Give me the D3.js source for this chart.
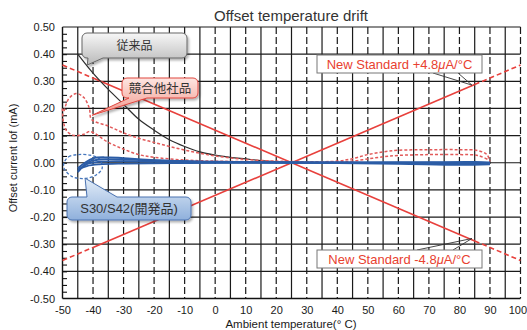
<!DOCTYPE html>
<html>
<head>
<meta charset="utf-8">
<script src="https://cdnjs.cloudflare.com/ajax/libs/d3/7.8.5/d3.min.js"></script>
<style>
body { margin: 0; background: #fff; }
svg { display: block; font-family: "Liberation Sans", Arial, sans-serif; }
</style>
</head>
<body>
<svg id="chart" width="527" height="330"></svg>
<script>
/**
 * Flag whether or not to show debugging data in the console.
 * @type Boolean
 */
var DEBUG = false;

// tick values of both axes
var X_TICKS = [-50, -40, -30, -20, -10, 0, 10, 20, 30, 40, 50, 60, 70, 80, 90, 100];
var Y_TICKS = [0.5, 0.4, 0.3, 0.2, 0.1, 0, -0.1, -0.2, -0.3, -0.4, -0.5];

// New Standard limit lines, [temperature, mA]
var STANDARD_PLUS  = [[-50, -0.36], [-40, -0.312], [85, 0.288], [100, 0.36]];
var STANDARD_MINUS = [[-50, 0.36], [-40, 0.312], [85, -0.288], [100, -0.36]];

// 従来品 (conventional part)
var CONVENTIONAL = [[-45, 0.40], [-40, 0.33], [-35, 0.27], [-30, 0.215], [-25, 0.16],
    [-20, 0.12], [-15, 0.085], [-10, 0.06], [-5, 0.04], [0, 0.028], [5, 0.02],
    [10, 0.014], [15, 0.008], [20, 0.004], [25, 0.001], [40, 0], [90, 0]];

// 競合他社品 (competitor parts)
var COMPETITOR_A = [[-49.5, 0.19], [-48, 0.235], [-45.5, 0.255], [-43, 0.24], [-41.2, 0.2],
    [-40.5, 0.16], [-35, 0.135], [-30, 0.11], [-25, 0.09], [-20, 0.075], [-15, 0.06],
    [-10, 0.047], [-5, 0.035], [0, 0.025], [5, 0.018], [10, 0.012], [20, 0.006],
    [30, 0.004], [40, 0.006], [45, 0.015], [50, 0.03], [55, 0.04], [60, 0.046],
    [70, 0.048], [80, 0.048], [86, 0.045], [89, 0.03], [90, 0.005]];
var COMPETITOR_B = [[-50, 0.2], [-49.7, 0.15], [-48.5, 0.115], [-46, 0.1], [-43, 0.105],
    [-41, 0.115], [-35, 0.075], [-30, 0.05], [-25, 0.03], [-20, 0.02], [-10, 0.01],
    [0, 0.006], [20, 0.003], [40, 0.003], [45, 0.006], [50, 0.014], [55, 0.022],
    [60, 0.027], [70, 0.03], [80, 0.03], [86, 0.027], [90, 0.008]];

// S30/S42 (開発品) parts
var DEV_A = [[-45, -0.035], [-43, -0.01], [-41, 0.005], [-38, 0.012], [-35, 0.013], [-30, 0.012],
    [-20, 0.009], [-10, 0.006], [0, 0.004], [20, 0.002], [40, 0.001], [60, 0], [80, -0.002], [90, -0.005]];
var DEV_B = [[-45, -0.03], [-42, -0.005], [-38, 0.004], [-30, 0.006], [-20, 0.004], [0, 0.002],
    [30, 0], [60, -0.004], [80, -0.008], [90, -0.006]];
var DEV_C = [[-45, -0.025], [-42, -0.012], [-38, -0.006], [-30, -0.003], [-10, -0.001], [20, 0],
    [50, 0], [70, 0.002], [85, 0.003], [90, 0]];
var DEV_D = [[-45, -0.02], [-40, 0.016], [-35, 0.02], [-30, 0.017], [-20, 0.01], [-10, 0.006],
    [0, 0.003], [30, 0.001], [60, 0.001], [90, 0]];
var DEV_LOOP = [[-49.5, 0], [-48, 0.022], [-45, 0.03], [-41, 0.028], [-38, 0.015], [-37, -0.02],
    [-39, -0.045], [-43, -0.058], [-47, -0.05], [-49.5, -0.02]];

var SVG = d3.select('#chart');
var X = d3.scaleLinear().domain([-50, 100]).range([62.5, 520.5]);
var Y = d3.scaleLinear().domain([-0.5, 0.5]).range([298.5, 27]);

var line = d3.line().x(function(d) { return X(d[0]); }).y(function(d) { return Y(d[1]); });

/**
 * Gradients and the shadow used by the callouts.
 */
createDefs = function() {
    var defs = SVG.append('defs');
    function grad(id, top, bottom) {
        var g = defs.append('linearGradient').attr('id', id)
            .attr('x1', 0).attr('y1', 0).attr('x2', 0).attr('y2', 1);
        g.append('stop').attr('offset', '0%').attr('stop-color', top);
        g.append('stop').attr('offset', '100%').attr('stop-color', bottom);
    }
    grad('grayGrad', '#f7f7f7', '#b9b9b9');
    grad('redGrad', '#fde6e2', '#f2978c');
    grad('blueGrad', '#e3edf8', '#8fb0dc');
    defs.append('filter').attr('id', 'shadow')
        .attr('x', '-10%').attr('y', '-20%').attr('width', '130%').attr('height', '160%')
        .append('feDropShadow')
        .attr('dx', 1.5).attr('dy', 2).attr('stdDeviation', 1.2)
        .attr('flood-color', '#000').attr('flood-opacity', 0.3);
};

/**
 * Grid, minor ticks and axis labels.
 */
drawAxes = function() {
    if (DEBUG) console.log('drawAxes');
    var grid = SVG.append('g').attr('stroke', '#1a1a1a').attr('stroke-width', 1.2);

    grid.selectAll('.v').data(d3.range(-45, 101, 5)).enter().append('line')
        .attr('x1', function(d) { return X(d); }).attr('x2', function(d) { return X(d); })
        .attr('y1', Y(0.5)).attr('y2', Y(-0.5))
        .attr('stroke-dasharray', function(d) { return d % 10 === 0 ? '7,3' : null; });

    grid.selectAll('.h').data(Y_TICKS.slice(0, -1)).enter().append('line')
        .attr('x1', X(-50)).attr('x2', X(100))
        .attr('y1', function(d) { return Y(d); }).attr('y2', function(d) { return Y(d); });

    // axis lines
    SVG.append('line').attr('x1', X(-50)).attr('x2', X(-50)).attr('y1', Y(0.5)).attr('y2', Y(-0.5))
        .attr('stroke', '#111').attr('stroke-width', 1.4);
    SVG.append('line').attr('x1', X(-50)).attr('x2', X(100)).attr('y1', Y(-0.5)).attr('y2', Y(-0.5))
        .attr('stroke', '#111').attr('stroke-width', 1.4);

    // minor ticks inside the left axis
    var minor = SVG.append('g').attr('transform', 'translate(' + X(-50) + ',0)')
        .call(d3.axisRight(Y).tickValues(d3.range(-0.475, 0.5, 0.025)).tickSize(4.5).tickFormat(''));
    minor.select('.domain').remove();
    minor.selectAll('line').attr('stroke', '#111').attr('stroke-width', 1.1);

    var ya = SVG.append('g').attr('transform', 'translate(' + X(-50) + ',0)')
        .call(d3.axisLeft(Y).tickValues(Y_TICKS).tickSize(0).tickPadding(7.5)
            .tickFormat(function(d) { return d.toFixed(2); }));
    ya.select('.domain').remove();
    ya.selectAll('text').attr('font-size', 11).attr('fill', '#1a1a1a')
        .attr('font-family', '"Liberation Sans", Arial, sans-serif');

    var xa = SVG.append('g').attr('transform', 'translate(0,' + Y(-0.5) + ')')
        .call(d3.axisBottom(X).tickValues(X_TICKS).tickSize(0).tickPadding(8)
            .tickFormat(function(d) { return String(d); }));
    xa.select('.domain').remove();
    xa.selectAll('text').attr('font-size', 11).attr('fill', '#1a1a1a')
        .attr('font-family', '"Liberation Sans", Arial, sans-serif');
    // keep the last label inside the window
    xa.selectAll('text').filter(function(d) { return d === 100; })
        .attr('text-anchor', 'end').attr('x', 6);

    SVG.append('text').attr('x', 291).attr('y', 21).attr('text-anchor', 'middle')
        .attr('font-size', 15).attr('fill', '#333').text('Offset temperature drift');
    SVG.append('text').attr('x', 291).attr('y', 328).attr('text-anchor', 'middle')
        .attr('font-size', 11.5).attr('fill', '#1a1a1a').text('Ambient temperature(° C)');
    SVG.append('text').attr('transform', 'translate(17,158) rotate(-90)').attr('text-anchor', 'middle')
        .attr('font-size', 11).attr('fill', '#1a1a1a').text('Offset current Iof (mA)');
};

/**
 * All measured curves and the standard limit lines.
 */
drawSeries = function() {
    if (DEBUG) console.log('drawSeries');
    var g = SVG.append('g').attr('fill', 'none');

    [STANDARD_PLUS, STANDARD_MINUS].forEach(function(s) {
        g.append('path').attr('d', line(s.slice(0, 2))).attr('stroke', '#e8403c')
            .attr('stroke-width', 1.6).attr('stroke-dasharray', '5,3');
        g.append('path').attr('d', line(s.slice(2, 4))).attr('stroke', '#e8403c')
            .attr('stroke-width', 1.6).attr('stroke-dasharray', '5,3');
        g.append('path').attr('d', line(s.slice(1, 3))).attr('stroke', '#e8403c')
            .attr('stroke-width', 1.6);
    });

    var smooth = d3.line().curve(d3.curveCatmullRom)
        .x(function(d) { return X(d[0]); }).y(function(d) { return Y(d[1]); });

    g.append('path').attr('d', smooth(CONVENTIONAL)).attr('stroke', '#2e2e2e').attr('stroke-width', 1.2);

    [COMPETITOR_A, COMPETITOR_B].forEach(function(s) {
        g.append('path').attr('d', smooth(s)).attr('stroke', '#e25a5a')
            .attr('stroke-width', 1.5).attr('stroke-dasharray', '3,2');
    });

    var loop = d3.line().curve(d3.curveCatmullRomClosed)
        .x(function(d) { return X(d[0]); }).y(function(d) { return Y(d[1]); });
    g.append('path').attr('d', loop(DEV_LOOP)).attr('stroke', '#4677bd')
        .attr('stroke-width', 1.3).attr('stroke-dasharray', '3,2');

    [DEV_A, DEV_B, DEV_C, DEV_D].forEach(function(s) {
        g.append('path').attr('d', smooth(s)).attr('stroke', '#2b5ca6').attr('stroke-width', 1.8);
    });
};

/**
 * Rounded box with a pointer on its top or bottom edge.
 */
calloutPath = function(c) {
    var x = c.x, y = c.y, w = c.w, h = c.h, r = 5;
    var tx = X(c.tip[0]), ty = Y(c.tip[1]);
    var p = 'M' + (x + r) + ',' + y;
    if (c.side === 'top') p += 'H' + c.b1 + 'L' + tx + ',' + ty + 'L' + c.b2 + ',' + y;
    p += 'H' + (x + w - r) + 'A' + r + ',' + r + ' 0 0 1 ' + (x + w) + ',' + (y + r);
    p += 'V' + (y + h - r) + 'A' + r + ',' + r + ' 0 0 1 ' + (x + w - r) + ',' + (y + h);
    if (c.side === 'bottom') p += 'H' + c.b2 + 'L' + tx + ',' + ty + 'L' + c.b1 + ',' + (y + h);
    p += 'H' + (x + r) + 'A' + r + ',' + r + ' 0 0 1 ' + x + ',' + (y + h - r);
    p += 'V' + (y + r) + 'A' + r + ',' + r + ' 0 0 1 ' + (x + r) + ',' + y + 'Z';
    return p;
};

/**
 * Labels for the three part groups and the two standard lines.
 */
drawCallouts = function() {
    if (DEBUG) console.log('drawCallouts');
    var callouts = [
        { text: '従来品', x: 82, y: 33, w: 105, h: 25, side: 'bottom', b1: 88, b2: 103,
          tip: [-41.9, 0.36], fill: 'url(#grayGrad)', stroke: '#666', size: 12 },
        { text: '競合他社品', x: 122, y: 78, w: 76, h: 20, side: 'bottom', b1: 129, b2: 147,
          tip: [-40.3, 0.175], fill: 'url(#redGrad)', stroke: '#e0463f', size: 12.5 },
        { text: 'S30/S42(開発品)', x: 67, y: 197, w: 124, h: 23, side: 'top', b1: 87, b2: 117,
          tip: [-42.6, -0.057], fill: 'url(#blueGrad)', stroke: '#4a72b0', size: 13 }
    ];
    callouts.forEach(function(c) {
        SVG.append('path').attr('d', calloutPath(c)).attr('fill', c.fill)
            .attr('stroke', c.stroke).attr('stroke-width', 1).attr('filter', 'url(#shadow)');
        SVG.append('text').attr('x', c.x + c.w / 2).attr('y', c.y + c.h / 2 + c.size * 0.36)
            .attr('text-anchor', 'middle').attr('font-size', c.size).attr('fill', '#333')
            .attr('font-family', '"Liberation Sans", "Noto Sans CJK JP", sans-serif')
            .text(c.text);
    });

    var standards = [
        { sign: '+', x: 317, y: 55, w: 165, h: 18, base: 73, b1: 433, b2: 458, tip: [84.1, 0.286] },
        { sign: '-', x: 317, y: 250, w: 165, h: 18, base: 250, b1: 417, b2: 453, tip: [84.1, -0.279] }
    ];
    standards.forEach(function(s) {
        var tx = X(s.tip[0]), ty = Y(s.tip[1]);
        SVG.append('path')
            .attr('d', 'M' + s.b1 + ',' + s.base + 'L' + tx + ',' + ty + 'L' + s.b2 + ',' + s.base)
            .attr('fill', 'none').attr('stroke', '#333').attr('stroke-width', 0.9);
        SVG.append('rect').attr('x', s.x).attr('y', s.y).attr('width', s.w).attr('height', s.h)
            .attr('fill', '#fff').attr('stroke', '#777').attr('stroke-width', 1);
        var t = SVG.append('text').attr('x', s.x + s.w / 2).attr('y', s.y + s.h / 2 + 4.7)
            .attr('text-anchor', 'middle').attr('font-size', 13).attr('fill', '#e8412f');
        t.append('tspan').text('New Standard ' + s.sign + '4.8');
        t.append('tspan').attr('font-style', 'italic').text('μ');
        t.append('tspan').text('A/°C');
    });
};

createDefs();
drawAxes();
drawSeries();
drawCallouts();
</script>
</body>
</html>
